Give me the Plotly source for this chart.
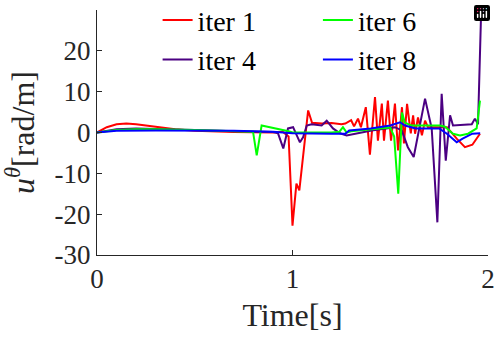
import plotly.graph_objects as go

# ---- data ----
t_iter1 = [0, 0.05, 0.1, 0.15, 0.2, 0.3, 0.4, 0.5, 0.6, 0.7, 0.8, 0.9, 0.95, 0.98,
           1.0, 1.02, 1.035, 1.08, 1.10, 1.15, 1.2, 1.25, 1.27, 1.30, 1.315, 1.335, 1.35,
           1.375, 1.396, 1.422, 1.437, 1.457, 1.468, 1.488, 1.504, 1.524, 1.54, 1.56, 1.57,
           1.586, 1.605, 1.617, 1.627, 1.642, 1.662, 1.678, 1.693, 1.79, 1.84, 1.882, 1.92, 1.959]
u_iter1 = [0, 1.3, 2.0, 2.2, 2.0, 1.4, 0.8, 0.4, 0.2, 0.1, 0.05, 0.0, 0.2, -1.0,
           -22.8, -12.5, -14.2, 5.4, 2.4, 2.2, 2.3, 2.0, 2.2, 3.0, 1.5, 3.4, 1.3,
           6.2, -5.4, 8.7, -2.0, 7.1, -2.0, 7.8, -2.0, 7.1, -4.4, 6.2, -2.7,
           7.0, -0.2, 4.2, -0.3, 3.7, -0.7, 2.9, 1.3, 1.3, -1.5, -3.6, -3.0, -0.3]

t_iter4 = [0, 0.1, 0.2, 0.3, 0.5, 0.7, 0.9, 0.926, 0.953, 0.977, 1.003, 1.038, 1.054,
           1.073, 1.098, 1.149, 1.175, 1.207, 1.243, 1.277, 1.405, 1.524, 1.559, 1.59,
           1.62, 1.678, 1.712, 1.741, 1.763, 1.784, 1.806, 1.821, 1.917, 1.933, 1.949, 1.964]
u_iter4 = [0, 0.8, 1.0, 0.9, 0.6, 0.3, 0.1, -0.2, -3.9, 1.0, 1.3, -2.4, -1.2,
           1.7, 2.0, 1.7, 2.9, 1.0, -0.2, -0.7, 0.5, 1.3, 0.5, -3.6,
           -6.0, 8.3, 1.0, -22.0, 9.5, -6.9, 4.2, 1.7, 2.0, 3.4, 2.0, 28.0]

t_iter6 = [0, 0.1, 0.2, 0.3, 0.5, 0.7, 0.798, 0.817, 0.834, 0.842, 0.98, 1.0, 1.2, 1.24,
           1.258, 1.277, 1.3, 1.5, 1.52, 1.541, 1.56, 1.575, 1.61, 1.754, 1.78, 1.821,
           1.857, 1.898, 1.942, 1.959]
u_iter6 = [0, 0.6, 0.8, 0.8, 0.6, 0.3, 0.2, -5.6, 0.0, 1.7, 0.3, 0.0, 0.0, 0.2,
           1.3, 0.0, 0.3, 1.2, -1.0, -15.0, 4.9, 2.4, 1.7, 1.7, 1.4, -0.3,
           -0.7, -0.3, 1.0, 7.8]

t_iter8 = [0, 0.1, 0.3, 0.5, 0.7, 0.9, 1.0, 1.2, 1.27, 1.29, 1.4, 1.5, 1.55, 1.575,
           1.63, 1.75, 1.79, 1.84, 1.87, 1.92, 1.96]
u_iter8 = [0, 0.4, 0.5, 0.5, 0.4, 0.2, -0.2, -0.3, -0.3, 0.5, 1.0, 1.7, 2.5, 1.7,
           1.0, 1.0, -0.3, -2.4, -1.5, -0.3, -0.2]

x_ticks = [0, 1, 2]
y_ticks = [-30, -20, -10, 0, 10, 20, 30]

FONT = "Liberation Serif, Times New Roman, Times, DejaVu Serif, serif"
AX = "#262626"

fig = go.Figure()
fig.add_trace(go.Scatter(x=t_iter1, y=u_iter1, mode="lines", name="iter 1",
                         line=dict(color="#FF0000", width=2), legend="legend"))
fig.add_trace(go.Scatter(x=t_iter4, y=u_iter4, mode="lines", name="iter 4",
                         line=dict(color="#4B0082", width=2), legend="legend"))
fig.add_trace(go.Scatter(x=t_iter6, y=u_iter6, mode="lines", name="iter 6",
                         line=dict(color="#00FF00", width=2), legend="legend2"))
fig.add_trace(go.Scatter(x=t_iter8, y=u_iter8, mode="lines", name="iter 8",
                         line=dict(color="#0000FF", width=2), legend="legend2"))

leg_common = dict(bgcolor="rgba(0,0,0,0)", borderwidth=0, orientation="v",
                  font=dict(family=FONT, size=28, color="#000000"),
                  xanchor="left", yanchor="top", tracegroupgap=0, itemwidth=30)

fig.update_layout(
    width=496, height=337,
    margin=dict(l=97, r=8, t=10, b=82, autoexpand=False),
    paper_bgcolor="white", plot_bgcolor="white",
    font=dict(family=FONT, size=27, color=AX),
    showlegend=True,
    modebar=dict(bgcolor="rgba(0,0,0,0)", color="rgba(0,0,0,0)",
                 activecolor="rgba(0,0,0,0)"),
    legend=dict(x=0.155, y=1.06, **leg_common),
    legend2=dict(x=0.565, y=1.06, **leg_common),
    xaxis=dict(range=[0, 2], tickvals=x_ticks, ticktext=[str(v) for v in x_ticks],
               showgrid=False, zeroline=False, showline=True, linecolor=AX, linewidth=1,
               ticks="inside", ticklen=5, tickcolor=AX, mirror=False, automargin=False,
               tickfont=dict(family=FONT, size=27, color=AX),
               title=dict(text="Time[s]", font=dict(family=FONT, size=32, color=AX), standoff=10)),
    yaxis=dict(range=[-30, 30], tickvals=y_ticks, ticktext=[str(v) for v in y_ticks],
               showgrid=False, zeroline=False, showline=True, linecolor=AX, linewidth=1,
               ticks="inside", ticklen=5, tickcolor=AX, mirror=False, automargin=False,
               tickfont=dict(family=FONT, size=27, color=AX),
               title=dict(text="<i>u</i><sup><i>θ</i></sup>[rad/m]",
                          font=dict(family=FONT, size=32, color=AX), standoff=10)),
)

post = (
    "document.body.style.margin='0';"
    "document.querySelectorAll('.xtick text, .ytick text, .legendtext').forEach("
    "function(e){e.style.fontFamily='Liberation Serif, Times New Roman, DejaVu Serif, serif';});"
)
fig.write_html("out.html", post_script=post)
